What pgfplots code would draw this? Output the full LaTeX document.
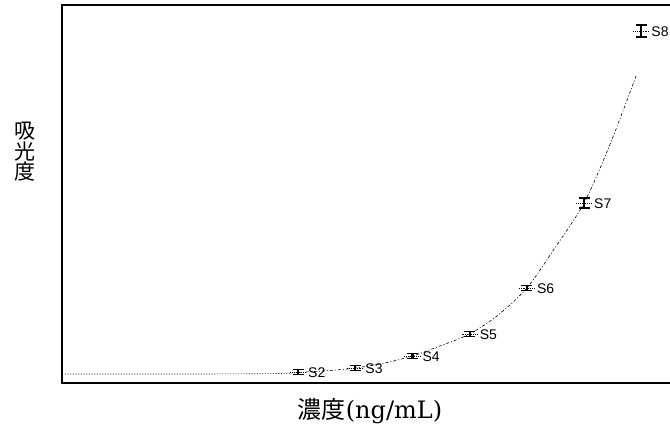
\documentclass[border=0pt]{standalone}
\usepackage{fontspec}
\usepackage{pgfplots}
\usepackage{pgfplotstable}
\pgfplotsset{compat=1.18}
\setmainfont{DejaVu Serif}
\newfontfamily\cjk{Noto Sans CJK JP}
\newfontfamily\labfont{Liberation Sans}

% standards S2..S8: position, absorbance, spread
\pgfplotstableread{
x y err name
2 11  2.5 S2
3 15  2.5 S3
4 27  2.5 S4
5 49  2.5 S5
6 95  2.5 S6
7 180 5   S7
8 352 6   S8
}\standards

\begin{document}
\begin{tikzpicture}
\begin{axis}[
  name=ax,
  scale only axis,
  width=612pt, height=378pt,
  xmin=-2.126, xmax=8.573,
  ymin=0, ymax=378,
  xtick=\empty, ytick=\empty,
  axis line style={line width=1.5pt},
  clip=false,
]
% fitted calibration curve, flat part
\addplot[densely dotted, line width=0.6pt, smooth] coordinates {
  (-2.07,9) (0.29,9) (1.69,9.5) (2,10.5)
};
% fitted calibration curve, rising part
\addplot[dash pattern=on 3pt off 2pt on 1pt off 2pt, line width=0.6pt, smooth] coordinates {
  (2,10.5) (2.56,12.5) (3,15) (3.52,20) (4,27) (4.48,37) (5,49)
  (5.50,68) (6,95) (6.49,135) (7,180) (7.45,238) (7.91,307)
};
% measured standards with error bars
\addplot[
  only marks,
  mark=-, mark size=8pt,
  mark options={densely dotted, line width=0.9pt},
  error bars/.cd,
    y dir=both, y explicit,
    error bar style={line width=2.2pt},
    error mark options={rotate=90, mark size=5.5pt, line width=1.6pt},
] table[x=x, y=y, y error=err] {\standards};
\addplot[
  only marks, mark=none,
  nodes near coords,
  point meta=explicit symbolic,
  every node near coord/.style={anchor=west, xshift=10pt, yshift=-1pt, inner sep=0pt,
    font=\labfont\fontsize{14}{14}\selectfont},
] table[x=x, y=y, meta=name] {\standards};
\end{axis}
\node[align=center, font=\cjk\fontsize{21}{20.5}\selectfont, inner sep=0pt]
  at ([shift={(-37pt,231pt)}]ax.south west) {吸\\光\\度};
\node[inner sep=0pt, anchor=center]
  at ([shift={(308pt,-28pt)}]ax.south west)
  {{\cjk\fontsize{24}{24}\selectfont 濃度}{\fontsize{24}{24}\selectfont (ng/mL)}};
\pgfresetboundingbox
\useasboundingbox ([shift={(-62pt,-48pt)}]ax.south west) rectangle ([shift={(608pt,383pt)}]ax.south west);
\end{tikzpicture}
\end{document}
